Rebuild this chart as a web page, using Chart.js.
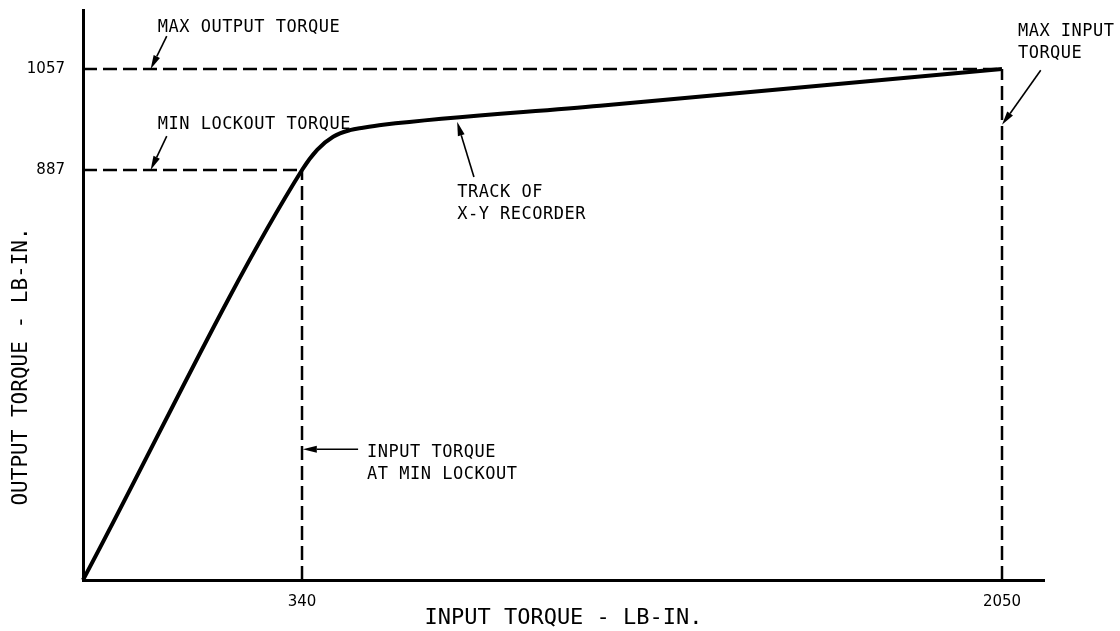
<!DOCTYPE html>
<html>
<head>
<meta charset="utf-8">
<script src="https://cdn.jsdelivr.net/npm/chart.js@4.4.1/dist/chart.umd.min.js"></script>
<style>
  html, body { margin: 0; padding: 0; background: #fff; }
  #wrap { width: 1120px; height: 631px; }
</style>
</head>
<body>
<div id="wrap"><canvas id="chart"></canvas></div>
<script>
// X-Y recorder track, lb-in.
const trackInput = [0, 340, 377, 416, 457, 489, 538, 1068, 2050];
const trackOutput = [0, 887, 921, 943, 954, 958, 963, 995, 1057];

const minLockoutInput = 340;
const minLockoutOutput = 887;
const maxInput = 2050;
const maxOutput = 1057;

const xTickValues = [340, 2050];
const yTickValues = [887, 1057];

// callouts: text lines, text anchor and arrow (tail -> tip), all in data units
const notes = [
  { lines: ['MAX OUTPUT TORQUE'], at: [116, 1119], tail: [130, 1112], tip: [105, 1057] },
  { lines: ['MIN LOCKOUT TORQUE'], at: [116, 956], tail: [130, 944], tip: [105, 887] },
  { lines: ['TRACK OF', 'X-Y RECORDER'], at: [719, 829], tail: [760, 872], tip: [719, 968] },
  { lines: ['MAX INPUT', 'TORQUE'], at: [2089, 1113], tail: [2145, 1055], tip: [2050, 963] },
  { lines: ['INPUT TORQUE', 'AT MIN LOCKOUT'], at: [499, 266], tail: [477, 283], tip: [342, 283] }
];

// the drawing is not to scale, so map values through a few stops
function mapStops(v, stops, from, to) {
  let i = 0;
  while (i < stops.length - 2 && v > stops[i + 1][from]) i++;
  const a = stops[i], b = stops[i + 1];
  return a[to] + (v - a[from]) * (b[to] - a[to]) / (b[from] - a[from]);
}

class PiecewiseScale extends Chart.LinearScale {
  getPixelForValue(value) {
    return this.getPixelForDecimal(mapStops(value, this.options.stops, 0, 1));
  }
  getValueForPixel(pixel) {
    return mapStops(this.getDecimalForPixel(pixel), this.options.stops, 1, 0);
  }
}
PiecewiseScale.id = 'piecewise';
PiecewiseScale.defaults = {};
Chart.register(PiecewiseScale);

const pts = (xs, ys) => xs.map((x, i) => ({ x, y: ys[i] }));
const MONO = '"DejaVu Sans Mono", monospace';

const dashed = data => ({
  data, borderColor: '#000', borderWidth: 2.5, borderDash: [14, 6],
  pointRadius: 0, tension: 0, clip: false
});

// fixed axis sizes, no extra room for tick labels
const fixSize = (prop, size) => s => {
  s[prop] = size;
  s.paddingTop = s.paddingBottom = s.paddingLeft = s.paddingRight = 0;
};

const notesPlugin = {
  id: 'notes',
  afterDraw(chart) {
    const { ctx, scales: { x, y }, chartArea } = chart;
    ctx.save();
    ctx.fillStyle = '#000';
    ctx.strokeStyle = '#000';
    ctx.font = '17px ' + MONO;
    ctx.letterSpacing = '0.5px';
    ctx.textBaseline = 'alphabetic';
    ctx.textAlign = 'left';
    notes.forEach(n => {
      const tx = x.getPixelForValue(n.at[0]);
      const ty = y.getPixelForValue(n.at[1]);
      n.lines.forEach((line, i) => ctx.fillText(line, tx, ty + i * 22));
      const x1 = x.getPixelForValue(n.tail[0]), y1 = y.getPixelForValue(n.tail[1]);
      const x2 = x.getPixelForValue(n.tip[0]), y2 = y.getPixelForValue(n.tip[1]);
      const ang = Math.atan2(y2 - y1, x2 - x1);
      const len = 14, half = 3.5;
      ctx.lineWidth = 1.6;
      ctx.beginPath();
      ctx.moveTo(x1, y1);
      ctx.lineTo(x2 - len * Math.cos(ang), y2 - len * Math.sin(ang));
      ctx.stroke();
      ctx.beginPath();
      ctx.moveTo(x2, y2);
      ctx.lineTo(x2 - len * Math.cos(ang) - half * Math.sin(ang), y2 - len * Math.sin(ang) + half * Math.cos(ang));
      ctx.lineTo(x2 - len * Math.cos(ang) + half * Math.sin(ang), y2 - len * Math.sin(ang) - half * Math.cos(ang));
      ctx.closePath();
      ctx.fill();
    });
    // y axis title, sits lower than the axis middle in the original
    ctx.letterSpacing = '0px';
    ctx.font = '21px ' + MONO;
    ctx.textAlign = 'center';
    ctx.textBaseline = 'middle';
    ctx.translate(chartArea.left - 61, y.getPixelForValue(462));
    ctx.rotate(-Math.PI / 2);
    ctx.fillText('OUTPUT TORQUE - LB-IN.', 0, 0);
    ctx.restore();
  }
};

new Chart(document.getElementById('chart'), {
  type: 'line',
  data: {
    datasets: [
      {
        data: pts(trackInput, trackOutput),
        borderColor: '#000', borderWidth: 4, pointRadius: 0,
        cubicInterpolationMode: 'monotone', clip: false
      },
      dashed(pts([0, maxInput], [maxOutput, maxOutput])),
      dashed(pts([0, minLockoutInput], [minLockoutOutput, minLockoutOutput])),
      dashed(pts([minLockoutInput, minLockoutInput], [0, minLockoutOutput])),
      dashed(pts([maxInput, maxInput], [0, maxOutput]))
    ]
  },
  options: {
    responsive: true,
    maintainAspectRatio: false,
    animation: false,
    layout: { autoPadding: false, padding: { top: 10, right: 76, left: 0, bottom: 0 } },
    plugins: { legend: { display: false }, tooltip: { enabled: false } },
    scales: {
      x: {
        type: 'piecewise',
        min: 0, max: 2153,
        stops: [[0, 0], [340, 0.2279], [2050, 0.9563], [2153, 1]],
        grid: { display: false, drawTicks: false },
        border: { display: true, color: '#000', width: 3 },
        afterBuildTicks: s => { s.ticks = xTickValues.map(value => ({ value })); },
        afterFit: fixSize('height', 51),
        ticks: {
          autoSkip: false, maxRotation: 0, padding: 13, color: '#000',
          font: { family: 'DejaVu Sans', size: 15 },
          callback: v => String(v)
        },
        title: {
          display: true, text: 'INPUT TORQUE - LB-IN.', color: '#000',
          font: { family: MONO, size: 22 }, padding: { top: 0, bottom: 0 }
        }
      },
      y: {
        type: 'piecewise',
        min: 0, max: 1156,
        stops: [[0, 0], [887, 0.7193], [1057, 0.8965], [1156, 1]],
        grid: { display: false, drawTicks: false },
        border: { display: true, color: '#000', width: 3 },
        afterBuildTicks: s => { s.ticks = yTickValues.map(value => ({ value })); },
        afterFit: fixSize('width', 83),
        ticks: {
          autoSkip: false, padding: 18, color: '#000',
          font: { family: 'DejaVu Sans', size: 15 },
          callback: v => String(v)
        }
      }
    }
  },
  plugins: [notesPlugin]
});
</script>
</body>
</html>
